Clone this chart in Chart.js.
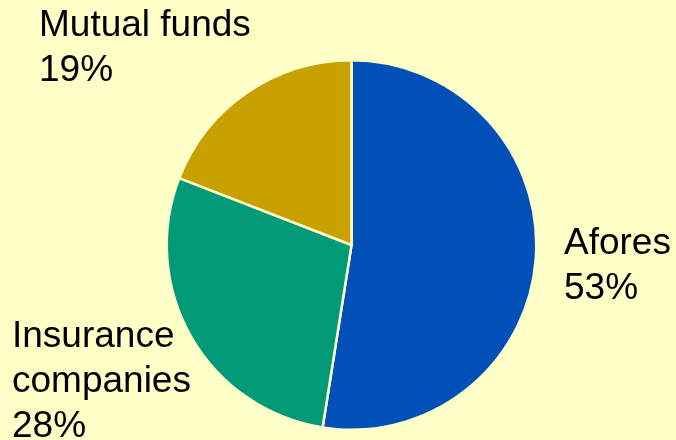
<!DOCTYPE html>
<html>
<head>
<meta charset="utf-8">
<script src="https://cdn.jsdelivr.net/npm/chart.js@4.4.0/dist/chart.umd.min.js"></script>
<style>
 html, body { margin: 0; padding: 0; background: #FFFFC8; }
 #wrap { width: 676px; height: 440px; }
</style>
</head>
<body>
<div id="wrap"><canvas id="myPie"></canvas></div>
<script>
var categories = ['Afores', 'Insurance companies', 'Mutual funds'];
var shares = [52.5, 28.4, 19.1];           // slice sizes
var shareLabels = ['53%', '28%', '19%'];   // rounded figures printed on the chart
var colors = ['#0050B8', '#009A78', '#C8A000'];

// label lines per slice, and the baseline of each first line
var nameLines = [['Afores'], ['Insurance', 'companies'], ['Mutual funds']];
var labelPos = [[564, 254], [12, 347], [39, 36]];

var outsideLabels = {
    id: 'outsideLabels',
    afterDraw: function (chart) {
        var ctx = chart.ctx;
        ctx.save();
        ctx.font = "37px 'Liberation Sans', Arial, sans-serif";
        ctx.fillStyle = '#000000';
        ctx.textBaseline = 'alphabetic';
        ctx.textAlign = 'left';
        for (var i = 0; i < nameLines.length; i++) {
            var lines = nameLines[i].concat([shareLabels[i]]);
            for (var j = 0; j < lines.length; j++) {
                ctx.fillText(lines[j], labelPos[i][0], labelPos[i][1] + j * 45);
            }
        }
        ctx.restore();
    }
};

var ctx = document.getElementById('myPie').getContext('2d');
var myPie = new Chart(ctx, {
    type: 'pie',
    data: {
        labels: categories,
        datasets: [{
            data: shares,
            backgroundColor: colors,
            borderColor: '#FFFFC8',
            borderWidth: 2.5
        }]
    },
    options: {
        responsive: true,
        maintainAspectRatio: false,
        animation: false,
        layout: { padding: { left: 165, right: 138, top: 59, bottom: 9 } },
        plugins: {
            legend: { display: false },
            tooltip: { enabled: false }
        }
    },
    plugins: [outsideLabels]
});
</script>
</body>
</html>
